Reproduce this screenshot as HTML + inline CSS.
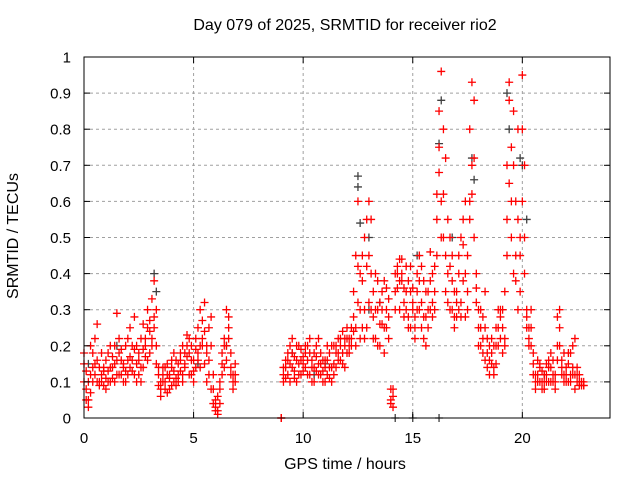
<!DOCTYPE html>
<html><head><meta charset="utf-8"><style>
body{margin:0;background:#fff}
svg{display:block;font-family:"Liberation Sans",sans-serif}
</style></head><body>
<svg id="c" width="640" height="480"></svg>
<script>
const xTicks=[0,5,10,15,20];
const yTicks=[0,0.1,0.2,0.3,0.4,0.5,0.6,0.7,0.8,0.9,1];
const yTickLabels=["0","0.1","0.2","0.3","0.4","0.5","0.6","0.7","0.8","0.9","1"];
const t1=[0,0.1,0.2,0.3,0.4,0.5,0.6,0.7,0.8,0.9,1,1.1,1.2,1.3,1.4,1.5,1.6,1.7,1.8,1.9,2,2.1,2.2,2.3,2.4,2.5,2.6,2.7,2.8,2.9,3,3.1,3.2,3.3,3.4,3.5,3.6,3.7,3.8,3.9,4,4.1,4.2,4.3,4.4,4.5,4.6,4.7,4.8,4.9,5,5.1,5.2,5.3,5.4,5.5,5.6,5.7,5.8,5.9,6,6.1,6.2,6.3,6.4,6.5,6.6,6.7,6.8,6.9];
const a1=[0.15,0.08,0.05,0.12,0.18,0.22,0.1,0.14,0.12,0.09,0.16,0.13,0.2,0.11,0.15,0.29,0.18,0.12,0.14,0.2,0.16,0.25,0.13,0.19,0.15,0.12,0.22,0.26,0.17,0.3,0.24,0.33,0.38,0.2,0.14,0.1,0.12,0.08,0.15,0.11,0.09,0.13,0.16,0.12,0.18,0.2,0.14,0.17,0.22,0.16,0.13,0.19,0.25,0.3,0.22,0.32,0.18,0.25,0.28,0.12,0.05,0.02,0.04,0.15,0.22,0.3,0.25,0.18,0.12,0.1];
const b1=[0.1,0.13,0.03,0.07,0.1,0.15,0.26,0.09,0.1,0.13,0.08,0.1,0.14,0.17,0.1,0.12,0.22,0.16,0.1,0.13,0.12,0.17,0.2,0.28,0.1,0.16,0.14,0.19,0.22,0.16,0.27,0.2,0.25,0.3,0.09,0.06,0.14,0.1,0.07,0.12,0.14,0.1,0.11,0.15,0.13,0.1,0.18,0.23,0.12,0.2,0.1,0.14,0.16,0.2,0.27,0.15,0.2,0.12,0.08,0.04,0.02,0.06,0.1,0.18,0.14,0.2,0.28,0.12,0.08,0.15];
const c1=[0.18,0.05,0.1,0.2,0.14,0.12,0.16,0.1,0.18,0.14,0.11,0.18,0.1,0.14,0.2,0.16,0.12,0.19,0.15,0.1,0.22,0.14,0.16,0.12,0.2,0.18,0.1,0.14,0.2,0.25,0.18,0.22,0.28,0.15,0.12,0.08,0.1,0.14,0.12,0.08,0.16,0.18,0.09,0.1,0.16,0.12,0.15,0.2,0.18,0.12,0.16,0.22,0.18,0.14,0.2,0.24,0.1,0.16,0.2,0.08,0.03,0.01,0.08,0.12,0.2,0.16,0.22,0.14,0.1,0.12];
const t2=[9,9.1,9.2,9.3,9.4,9.5,9.6,9.7,9.8,9.9,10,10.1,10.2,10.3,10.4,10.5,10.6,10.7,10.8,10.9,11,11.1,11.2,11.3,11.4,11.5,11.6,11.7,11.8,11.9,12,12.1,12.2,12.3,12.4,12.5,12.6,12.7,12.8,12.9,13,13.1,13.2,13.3,13.4,13.5,13.6,13.7,13.8,13.9,14,14.1,14.2,14.3,14.4,14.5,14.6,14.7,14.8,14.9,15,15.1,15.2,15.3,15.4,15.5,15.6,15.7,15.8,15.9,16,16.1,16.2,16.3,16.4,16.5,16.6,16.7,16.8,16.9,17,17.1,17.2,17.3,17.4,17.5,17.6,17.7,17.8,17.9,18,18.1,18.2,18.3,18.4,18.5,18.6,18.7,18.8,18.9,19,19.1,19.2,19.3,19.4,19.5,19.6,19.7,19.8,19.9,20,20.1,20.2,20.3,20.4,20.5,20.6,20.7,20.8,20.9,21,21.1,21.2,21.3,21.4,21.5,21.6,21.7,21.8,21.9,22,22.1,22.2,22.3,22.4,22.5,22.6,22.7,22.8];
const a2=[0,0.12,0.14,0.16,0.1,0.18,0.13,0.2,0.15,0.12,0.17,0.14,0.2,0.12,0.16,0.18,0.13,0.22,0.15,0.1,0.14,0.12,0.18,0.1,0.15,0.2,0.16,0.22,0.18,0.2,0.22,0.18,0.25,0.35,0.45,0.6,0.3,0.38,0.5,0.42,0.32,0.55,0.28,0.4,0.2,0.32,0.26,0.38,0.3,0.22,0.08,0.03,0.4,0.36,0.44,0.38,0.32,0.42,0.28,0.35,0.3,0.22,0.4,0.45,0.25,0.38,0.2,0.3,0.46,0.28,0.35,0.55,0.68,0.96,0.5,0.72,0.4,0.3,0.45,0.35,0.28,0.4,0.32,0.48,0.6,0.35,0.8,0.93,0.5,0.32,0.25,0.3,0.22,0.35,0.18,0.2,0.15,0.12,0.2,0.25,0.3,0.18,0.22,0.55,0.88,0.75,0.4,0.6,0.3,0.5,0.95,0.7,0.25,0.22,0.3,0.18,0.12,0.1,0.15,0.08,0.12,0.15,0.1,0.18,0.12,0.08,0.28,0.2,0.16,0.12,0.14,0.1,0.18,0.12,0.22,0.1,0.12,0.09,0.1];
const b2=[0,0.1,0.16,0.12,0.2,0.14,0.17,0.1,0.2,0.16,0.13,0.18,0.12,0.22,0.14,0.1,0.17,0.15,0.12,0.16,0.1,0.16,0.14,0.2,0.12,0.18,0.22,0.16,0.24,0.14,0.18,0.22,0.2,0.24,0.2,0.32,0.4,0.25,0.22,0.55,0.6,0.4,0.35,0.22,0.3,0.26,0.35,0.18,0.25,0.33,0.04,0.06,0.3,0.42,0.3,0.4,0.36,0.3,0.38,0.25,0.32,0.28,0.35,0.3,0.42,0.22,0.28,0.35,0.3,0.4,0.42,0.45,0.85,0.6,0.62,0.35,0.55,0.42,0.3,0.25,0.35,0.3,0.5,0.38,0.28,0.45,0.6,0.7,0.88,0.4,0.3,0.2,0.28,0.16,0.22,0.12,0.18,0.2,0.15,0.3,0.22,0.25,0.35,0.7,0.93,0.6,0.85,0.45,0.55,0.35,0.8,0.5,0.3,0.2,0.25,0.12,0.1,0.16,0.1,0.13,0.08,0.1,0.14,0.1,0.16,0.1,0.2,0.3,0.12,0.18,0.1,0.15,0.12,0.2,0.08,0.14,0.1,0.1,0.09];
const c2=[0,0.14,0.11,0.18,0.15,0.22,0.11,0.16,0.12,0.19,0.15,0.2,0.16,0.18,0.1,0.14,0.2,0.12,0.18,0.13,0.16,0.2,0.11,0.14,0.2,0.14,0.18,0.2,0.15,0.22,0.25,0.2,0.22,0.28,0.25,0.42,0.22,0.45,0.3,0.25,0.45,0.3,0.22,0.3,0.38,0.2,0.3,0.25,0.36,0.28,0.05,0.08,0.35,0.4,0.38,0.44,0.28,0.35,0.25,0.42,0.36,0.25,0.3,0.38,0.32,0.28,0.35,0.25,0.38,0.32,0.3,0.62,0.75,0.5,0.8,0.45,0.32,0.5,0.38,0.28,0.32,0.45,0.28,0.55,0.4,0.3,0.55,0.62,0.72,0.36,0.2,0.25,0.18,0.25,0.14,0.16,0.22,0.14,0.25,0.2,0.28,0.3,0.2,0.45,0.65,0.5,0.7,0.38,0.8,0.45,0.6,0.4,0.28,0.25,0.2,0.15,0.08,0.12,0.14,0.1,0.1,0.12,0.16,0.14,0.1,0.12,0.16,0.25,0.14,0.1,0.12,0.18,0.1,0.14,0.12,0.12,0.09,0.1,0.09];
const blackT=[0.2,1.5,3.2,3.3,5.2,6.5,9.5,11,12.5,12.5,12.6,13,13.5,15.2,16.3,16.2,16.8,17.7,17.8,19.3,19.4,19.9,20,20.2,15,16.2,14.2,13,10.5,21];
const blackV=[0.15,0.2,0.4,0.35,0.15,0.2,0.18,0.15,0.67,0.64,0.54,0.5,0.32,0.45,0.88,0.76,0.5,0.72,0.66,0.9,0.8,0.72,0.7,0.55,0,0,0,0.3,0.12,0.12];

const X0=84,X1=610,Y0=418,Y1=57;
const xs=v=>X0+v/24*(X1-X0);
const ys=v=>Y0-v*(Y0-Y1);
const svg=document.getElementById('c');
const NS='http://www.w3.org/2000/svg';
function mk(tag,attrs,parent){const e=document.createElementNS(NS,tag);for(const k in attrs)e.setAttribute(k,attrs[k]);(parent||svg).appendChild(e);return e;}

const grid=mk('g',{});


xTicks.forEach(v=>{if(v>0){const l=mk('line',{x1:xs(v),x2:xs(v),y1:Y0,y2:Y1,stroke:'#a0a0a0','stroke-dasharray':'3,3'},grid);

}});
yTicks.forEach(v=>{if(v>0&&v<1){const l=mk('line',{x1:X0,x2:X1,y1:ys(v),y2:ys(v),stroke:'#a0a0a0','stroke-dasharray':'3,3'},grid);

}});

const pts=mk('g',{});


function plus(t,v,col){const x=xs(t),y=ys(v);const p=mk('path',{d:`M${x-4},${y}h8M${x},${y-4}v8`,stroke:col,'stroke-width':1.3,fill:'none'},pts);

}
blackT.forEach((t,i)=>plus(t,blackV[i],'#404040'));
[[t1,a1],[t1,b1],[t1,c1],[t2,a2],[t2,b2],[t2,c2]].forEach(([T,V])=>T.forEach((t,i)=>{if(V[i]!==undefined)plus(t,V[i],'#ff0000');}));

const ax=mk('g',{});


mk('rect',{x:X0,y:Y1,width:X1-X0,height:Y0-Y1,fill:'none',stroke:'#000','stroke-width':1},ax);
xTicks.forEach(v=>{mk('line',{x1:xs(v),x2:xs(v),y1:Y0,y2:Y0-6,stroke:'#000'},ax);mk('line',{x1:xs(v),x2:xs(v),y1:Y1,y2:Y1+6,stroke:'#000'},ax);
const t=mk('text',{x:xs(v),y:Y0+25,'font-size':15,'text-anchor':'middle',fill:'#000'},ax);t.textContent=v;

});
yTicks.forEach((v,i)=>{mk('line',{x1:X0,x2:X0+6,y1:ys(v),y2:ys(v),stroke:'#000'},ax);mk('line',{x1:X1,x2:X1-6,y1:ys(v),y2:ys(v),stroke:'#000'},ax);
const t=mk('text',{x:X0-13,y:ys(v)+5.5,'font-size':15,'text-anchor':'end',fill:'#000'},ax);t.textContent=yTickLabels[i];

});
</script>
<div style="position:absolute;left:0;top:0;width:640px;height:480px;pointer-events:none;font-family:'Liberation Sans',sans-serif;font-size:16px;color:#000">
<div style="position:absolute;left:0;width:690px;text-align:center;top:17px">Day 079 of 2025, SRMTID for receiver rio2</div>
<div style="position:absolute;left:0;width:690px;text-align:center;top:456px">GPS time / hours</div>
<div style="position:absolute;left:-86px;top:227px;width:200px;text-align:center;transform:rotate(-90deg)">SRMTID / TECUs</div>
</div>
</body></html>
